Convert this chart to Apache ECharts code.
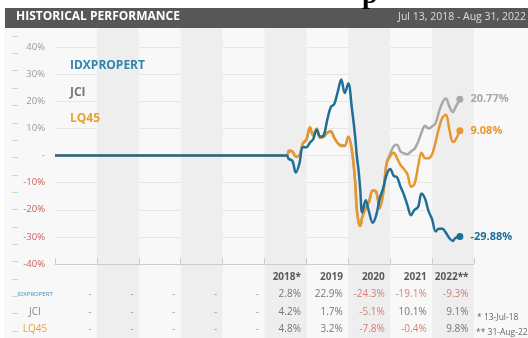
<!DOCTYPE html>
<html><head><meta charset="utf-8">
<script src="https://cdn.jsdelivr.net/npm/echarts@6/dist/echarts.min.js"></script>
<style>html,body{margin:0;padding:0;background:#fff}#c{width:528px;height:338px}</style>
</head><body><div id="c"></div>
<script>
// ---------- data ----------
const yearCats = ['2013','2014','2015','2016','2017','2018','2019','2020','2021','2022'];
const headerLabels = ['','','','','','2018*','2019','2020','2021','2022**'];
const rowLabels = ['', 'IDXPROPERT', 'JCI', 'LQ45'];
const idxYearly = [null,null,null,null,null,2.8,22.9,-24.3,-19.1,-9.3];
const jciYearly = [null,null,null,null,null,4.2,1.7,-5.1,10.1,9.1];
const lq45Yearly = [null,null,null,null,null,4.8,3.2,-7.8,-0.4,9.8];

const dates = ['2013-01-01','2018-07-13','2018-08-01','2018-09-01','2018-10-01','2018-11-01','2018-12-01',
 '2019-01-01','2019-02-01','2019-03-01','2019-04-01','2019-05-01','2019-06-01','2019-07-01','2019-08-01',
 '2019-09-01','2019-10-01','2019-11-01','2019-12-01','2020-01-01','2020-02-01','2020-03-01','2020-03-15',
 '2020-04-01','2020-04-15','2020-05-01','2020-06-01','2020-07-01','2020-08-01','2020-09-01','2020-10-01',
 '2020-11-01','2020-12-01','2021-01-01','2021-02-01','2021-03-01','2021-04-01','2021-05-01','2021-06-01',
 '2021-07-01','2021-08-01','2021-09-01','2021-10-01','2021-11-01','2021-12-01','2022-01-01','2022-02-01',
 '2022-03-01','2022-04-01','2022-05-01','2022-06-01','2022-07-01','2022-07-20','2022-08-31'];
const idxValues = [0,0,-1.3,-2,-6.3,-3,3,3,4.8,6,9.5,7,7.5,13,17.8,19,23.5,28,23,26.5,17.5,7,0,-6,-13,-21,
 -16.5,-21,-24.8,-22,-16,-12,-7,-5,-7.5,-8,-11.5,-14.5,-18.5,-22,-20,-19,-14,-16,-20.5,-23.5,-28,-27,-27,
 -28.5,-30.5,-31.5,-30.5,-29.88];
const jciValues = [0,0,1.6,1.4,-0.3,0,4.3,5.5,10,7.3,9.6,6.5,6.8,8.3,8.8,6.5,4.6,3.8,3.8,6.8,2.3,-9.5,-19.5,
 -24.6,-25.6,-22.7,-19.3,-16.8,-12.8,-13.3,-19.2,-13.6,-2.5,0.6,3.5,4,1.5,0.8,0.5,1.5,2.5,5,8.5,11,10,10.7,
 12,16,19.5,21,18,16,17.5,20.77];
const lq45Values = [0,0,1.8,1.5,-0.5,0,4.5,6,10.5,7.5,10,6.5,7,8.5,9,6.5,4.5,3.5,3.5,7,2,-10,-20,-25,-26,-23,
 -19.5,-17,-13,-13.5,-19.5,-14,-3,-0.3,1,-1,-3.5,-5,-7,-11.5,-10.5,-4,1,-1,-1,0.5,5,10,14,15,9.5,5,5.5,9.08];

// ---------- styles ----------
const FONT = '"Open Sans", "DejaVu Sans", sans-serif';
const C_IDX = '#1f6e97', C_JCI = '#a8a8a8', C_LQ = '#e8962e';

function toYear(s) {
  const d = new Date(s + 'T00:00:00Z');
  const y = d.getUTCFullYear();
  const a = Date.UTC(y, 0, 1), b = Date.UTC(y + 1, 0, 1);
  return y + (d.getTime() - a) / (b - a);
}
function lineData(values, color) {
  const last = values.length - 1;
  return values.map((v, i) => {
    const pt = [toYear(dates[i]), v];
    if (i !== last) return pt;
    return {
      value: pt, symbolSize: 7,
      label: { show: true, position: 'right', distance: 7, color: color, fontFamily: FONT,
        fontWeight: 'bold', fontSize: 11, formatter: p => p.value[1].toFixed(2) + '%' }
    };
  });
}
function lineSeries(name, values, color) {
  return {
    name: name, type: 'line', xAxisIndex: 1, yAxisIndex: 1,
    data: lineData(values, color), smooth: 0.35, symbol: 'circle', symbolSize: 0, showSymbol: true,
    lineStyle: { width: 2.5, color: color }, itemStyle: { color: color },
    silent: true, animation: false
  };
}
function tableSeries(rowIdx, cells, isHeader) {
  return {
    type: 'scatter', xAxisIndex: 2, yAxisIndex: 2, symbolSize: 0, silent: true, animation: false,
    data: yearCats.map((c, i) => [i, rowIdx, cells[i]]),
    label: {
      show: true, position: 'inside', align: 'right', offset: [15.5, 0], fontFamily: FONT,
      formatter: p => {
        const v = p.data[2];
        if (isHeader) return v === '' ? '' : '{h|' + v + '}';
        if (v === null) return '{d|-}';
        return (v < 0 ? '{n|' : '{v|') + v.toFixed(1) + '%}';
      },
      rich: {
        h: { fontWeight: 'bold', color: '#333', fontSize: 10, fontFamily: FONT },
        v: { color: '#555', fontSize: 10, fontFamily: FONT },
        n: { color: '#cf5f5a', fontSize: 10, fontFamily: FONT },
        d: { color: '#888', fontSize: 10, fontFamily: FONT }
      }
    }
  };
}

const chart = echarts.init(document.getElementById('c'), null, { renderer: 'canvas' });
chart.setOption({
  animation: false,
  backgroundColor: '#f8f8f8',
  textStyle: { fontFamily: FONT },
  title: [
    { text: 'HISTORICAL PERFORMANCE', left: 16, top: 11, padding: 0,
      textStyle: { color: '#fff', fontSize: 12, fontWeight: 'bold', fontFamily: FONT } },
    { text: 'Jul 13, 2018 - Aug 31, 2022', right: 2, top: 12, padding: 0,
      textStyle: { color: '#dddddd', fontSize: 10.5, fontWeight: 'normal', fontFamily: FONT } }
  ],
  graphic: [
    { type: 'rect', shape: { x: 0, y: 0, width: 528, height: 8 }, style: { fill: '#fff' }, z: 1 },
    { type: 'rect', shape: { x: 0, y: 0, width: 4, height: 338 }, style: { fill: '#fff' }, z: 1 },
    { type: 'rect', shape: { x: 5, y: 8, width: 523, height: 20 }, style: { fill: '#575757' }, z: 1 },
    { type: 'text', x: 362, y: 10, z: 2, style: { text: 'p', fill: '#000', verticalAlign: 'bottom',
        font: 'bold 28px "Liberation Serif", serif' } },
    { type: 'text', x: 477, y: 318, z: 2, style: { text: '* 13-Jul-18', fill: '#666', verticalAlign: 'middle',
        font: '8.5px ' + FONT } },
    { type: 'text', x: 476, y: 333, z: 2, style: { text: '** 31-Aug-22', fill: '#666', verticalAlign: 'middle',
        font: '8.5px ' + FONT } }
  ],
  legend: {
    orient: 'vertical', left: 60, top: 54, itemGap: 13.5, itemWidth: 0, itemHeight: 14, icon: 'none',
    selectedMode: false,
    textStyle: { fontSize: 12, fontWeight: 'bold', fontFamily: FONT },
    data: [
      { name: 'IDXPROPERT', textStyle: { color: '#2f86b0' } },
      { name: 'JCI', textStyle: { color: '#777777' } },
      { name: 'LQ45', textStyle: { color: '#e8a02e' } }
    ]
  },
  grid: [
    { left: 55, right: 54, top: 28, bottom: 0 },
    { left: 55, right: 54, top: 47, height: 217 },
    { left: 55, right: 54, top: 268.5, height: 70 },
    { left: 18, width: 1, top: 36, bottom: 7 }
  ],
  xAxis: [
    { gridIndex: 0, type: 'category', data: yearCats, boundaryGap: true,
      axisLine: { show: false }, axisTick: { show: false }, axisLabel: { show: false },
      splitLine: { show: false },
      splitArea: { show: true, areaStyle: { color: ['rgba(0,0,0,0)', '#eeeeee'] } } },
    { gridIndex: 1, type: 'value', min: 2013, max: 2023, interval: 1,
      axisLine: { show: true, onZero: false, lineStyle: { color: '#cccccc', width: 1 } },
      axisTick: { show: true, inside: true, length: 6, lineStyle: { color: '#cccccc' } },
      axisLabel: { show: false }, splitLine: { show: false } },
    { gridIndex: 2, type: 'category', data: yearCats, show: false },
    { gridIndex: 3, type: 'value', show: false }
  ],
  yAxis: [
    { gridIndex: 0, type: 'value', show: false, splitLine: { show: false } },
    { gridIndex: 1, type: 'value', min: -40, max: 40, interval: 10,
      axisLine: { show: false }, axisTick: { show: false },
      splitLine: { lineStyle: { color: '#e6e6e6', width: 1 } },
      axisLabel: { margin: 10, fontFamily: FONT,
        formatter: v => v === 0 ? '{z|-}' : (v < 0 ? '{n|' + v + '%}' : '{p|' + v + '%}'),
        rich: { p: { color: '#9a9a9a', fontSize: 9.5, fontFamily: FONT },
                n: { color: '#c9605a', fontSize: 9.5, fontFamily: FONT },
                z: { color: '#9a9a9a', fontSize: 9.5, fontFamily: FONT } } } },
    { gridIndex: 2, type: 'category', data: rowLabels, inverse: true,
      axisLine: { show: false }, axisTick: { show: false }, splitLine: { show: false },
      axisLabel: { align: 'center', margin: 20, fontFamily: FONT,
        formatter: v => v === 'IDXPROPERT' ? '{a|' + v + '}' : v === 'JCI' ? '{b|' + v + '}' : v === 'LQ45' ? '{c|' + v + '}' : '',
        rich: { a: { color: '#3a8fb5', fontSize: 6, fontFamily: FONT },
                b: { color: '#888888', fontSize: 10, fontFamily: FONT },
                c: { color: '#e8a33d', fontSize: 10, fontFamily: FONT } } } },
    { gridIndex: 3, type: 'value', min: 0, max: 17, interval: 1,
      axisLine: { show: false }, axisLabel: { show: false }, splitLine: { show: false },
      axisTick: { show: true, length: 6, lineStyle: { color: '#bfe3a8', width: 1 } } }
  ],
  series: [
    lineSeries('JCI', jciValues, C_JCI),
    lineSeries('LQ45', lq45Values, C_LQ),
    lineSeries('IDXPROPERT', idxValues, C_IDX),
    tableSeries(0, headerLabels, true),
    tableSeries(1, idxYearly, false),
    tableSeries(2, jciYearly, false),
    tableSeries(3, lq45Yearly, false)
  ]
});
</script>
</body></html>
